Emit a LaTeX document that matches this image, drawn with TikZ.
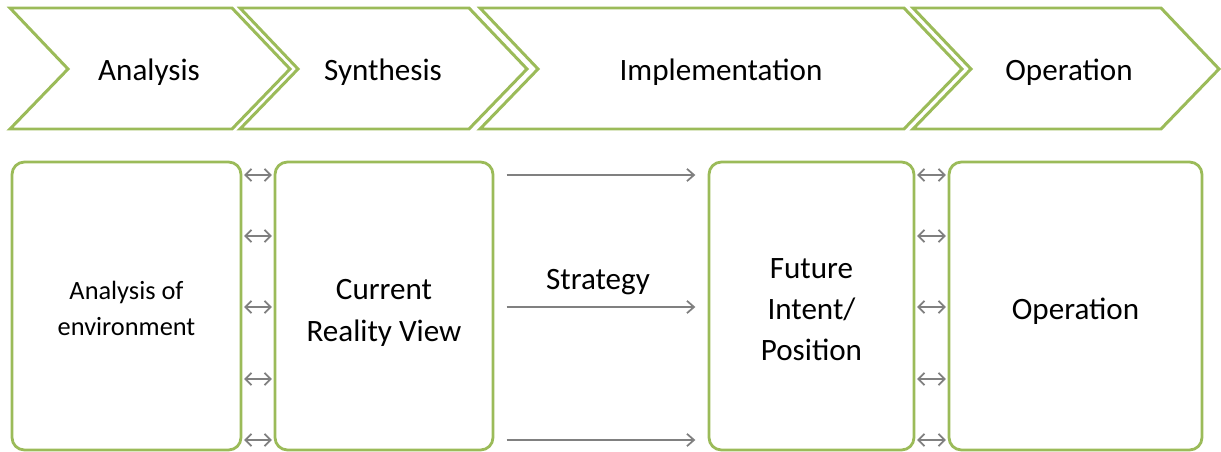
\documentclass[tikz,border=0pt]{standalone}
\usepackage{fontspec}
\setmainfont{Carlito}
\usetikzlibrary{arrows.meta}

\definecolor{leaf}{RGB}{155,187,89}
\definecolor{arrowgray}{RGB}{128,128,128}

\tikzset{
  chevron/.style = {draw=leaf, line width=1.7pt, line join=miter},
  phase/.style = {font=\fontsize{17.7}{24}\selectfont},
  stage/.style = {draw=leaf, line width=1.6pt, rounded corners=7pt, minimum height=288*0.569pt},
  stagetext/.style = {align=center, font=\fontsize{17.7}{23.5}\selectfont},
  both/.style = {arrowgray, line width=1pt, {Straight Barb[length=3.5pt,width=7pt]}-{Straight Barb[length=3.5pt,width=7pt]}},
  ahead/.style = {arrowgray, line width=1pt, -{Straight Barb[length=4pt,width=7pt]}}
}

\begin{document}
\begin{tikzpicture}[x=0.02cm, y=-0.02cm]
  \useasboundingbox (0,0) rectangle (1221,452);

  % 工程
  \draw [chevron] (10,8) -- (232,8) -- (290,69) -- (232,129) -- (10,129) -- (68,69) -- cycle;
  \draw [chevron] (240,8) -- (469,8) -- (527,69) -- (469,129) -- (240,129) -- (298,69) -- cycle;
  \draw [chevron] (480,8) -- (904,8) -- (962,69) -- (904,129) -- (480,129) -- (538,69) -- cycle;
  \draw [chevron] (913,8) -- (1161,8) -- (1219,69) -- (1161,129) -- (913,129) -- (971,69) -- cycle;
  \node [phase] (analysis) at (149,72) {Analysis};
  \node [phase] (synthesis) at (383,72) {Synthesis};
  \node [phase] (implementation) at (721,72) {Implementation};
  \node [phase] (operation) at (1069,72) {Operation};

  % 箱
  \node [stage, minimum width=229*0.569pt] (env) at (126.5,306) {};
  \node [stage, minimum width=218*0.569pt] (reality) at (384,306) {};
  \node [stage, minimum width=205*0.569pt] (future) at (811.5,306) {};
  \node [stage, minimum width=253*0.569pt] (run) at (1075.5,306) {};
  \node [stagetext, font=\fontsize{15}{20.5}\selectfont] (envtext) at ([yshift=-1.5pt]env.center) {Analysis of\\environment};
  \node [stagetext] (realitytext) at ([yshift=-4pt]reality.center) {Current\\Reality View};
  \node [stagetext] (futuretext) at ([yshift=-2pt]future.center) {Future\\Intent/\\Position};
  \node [stagetext] (runtext) at ([yshift=-3pt]run.center) {Operation};

  % 矢印
  \foreach \y in {175,236,307,379,440} {
    \draw [both, shorten <=1pt, shorten >=1pt] (env.east |- 0,\y) -- (reality.west |- 0,\y);
    \draw [both, shorten <=1pt, shorten >=1pt] (future.east |- 0,\y) -- (run.west |- 0,\y);
  }
  \foreach \y in {175,307,440}
    \draw [ahead, shorten <=7pt, shorten >=7pt] (reality.east |- 0,\y) -- (future.west |- 0,\y);

  % 説明
  \node [phase, anchor=south] (strategy) at (598,301) {Strategy};
\end{tikzpicture}
\end{document}
